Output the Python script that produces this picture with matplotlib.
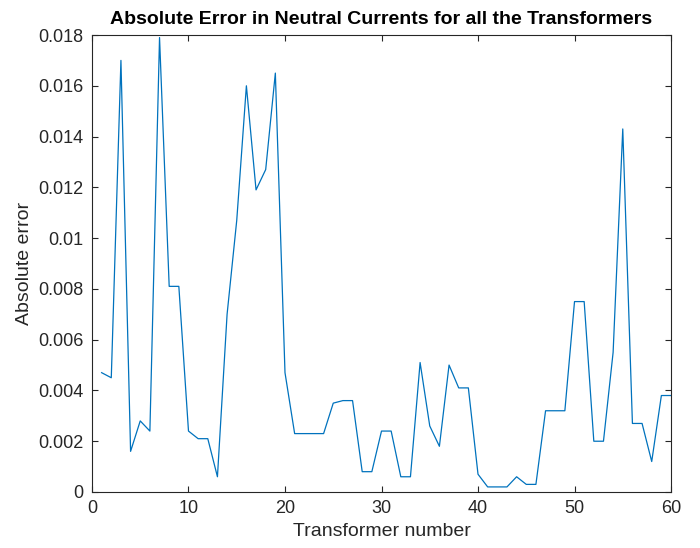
import numpy as np
import matplotlib.pyplot as plt

plt.rcParams['font.family'] = ['Liberation Sans', 'DejaVu Sans']

# transformer index and absolute error in neutral current
transformer = np.arange(1, 61)
abs_error = [
    0.0047, 0.0045, 0.0170, 0.0016, 0.0028, 0.0024, 0.0179, 0.0081, 0.0081, 0.0024,
    0.0021, 0.0021, 0.0006, 0.0070, 0.0107, 0.0160, 0.0119, 0.0127, 0.0165, 0.0047,
    0.0023, 0.0023, 0.0023, 0.0023, 0.0035, 0.0036, 0.0036, 0.0008, 0.0008, 0.0024,
    0.0024, 0.0006, 0.0006, 0.0051, 0.0026, 0.0018, 0.0050, 0.0041, 0.0041, 0.0007,
    0.0002, 0.0002, 0.0002, 0.0006, 0.0003, 0.0003, 0.0032, 0.0032, 0.0032, 0.0075,
    0.0075, 0.0020, 0.0020, 0.0055, 0.0143, 0.0027, 0.0027, 0.0012, 0.0038, 0.0038,
]

xticks = [0, 10, 20, 30, 40, 50, 60]
yticks = np.arange(0, 0.0181, 0.002)
ytick_labels = ['0', '0.002', '0.004', '0.006', '0.008', '0.01',
                '0.012', '0.014', '0.016', '0.018']

fig = plt.figure(figsize=(7, 5.48), dpi=100)
ax = fig.add_axes([0.1314, 0.1022, 0.8272, 0.8339])

ax.plot(transformer, abs_error, color=(0, 0.447, 0.741), lw=0.9)

ax.set_xlim(0, 60)
ax.set_ylim(0, 0.018)
ax.set_xticks(xticks)
ax.set_yticks(yticks)
ax.set_yticklabels(ytick_labels)

edge = '#262626'
for s in ax.spines.values():
    s.set_color(edge)
    s.set_linewidth(0.8)
ax.tick_params(direction='in', top=True, right=True, length=4, width=0.8,
               color=edge, labelsize=13, labelcolor=edge, pad=6)

ax.set_xlabel('Transformer number', fontsize=14, color=edge, labelpad=4)
ax.set_ylabel('Absolute error', fontsize=14, color=edge, labelpad=4)
ax.set_title('Absolute Error in Neutral Currents for all the Transformers',
             fontsize=14, fontweight='bold', color='black', pad=8)

fig.savefig('out.png', dpi=100)
